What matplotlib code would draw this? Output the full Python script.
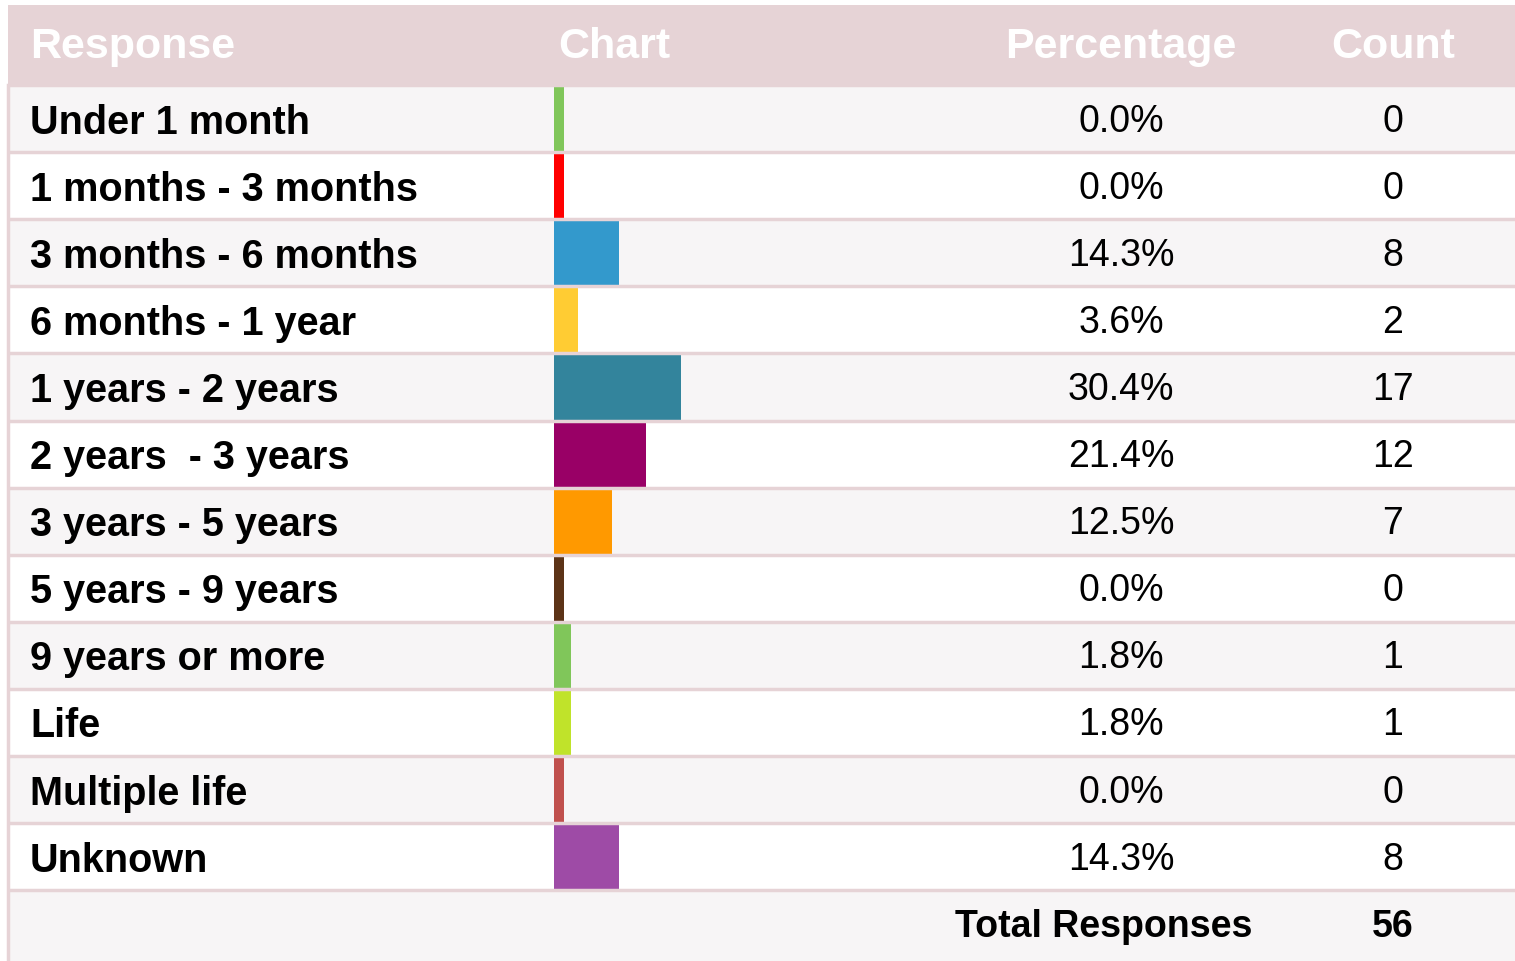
import matplotlib.pyplot as plt
from matplotlib.patches import Rectangle

plt.rcParams['font.family'] = ['Liberation Sans', 'DejaVu Sans']

responses = ['Under 1 month', '1 months - 3 months', '3 months - 6 months',
             '6 months - 1 year', '1 years - 2 years', '2 years  - 3 years',
             '3 years - 5 years', '5 years - 9 years', '9 years or more',
             'Life', 'Multiple life', 'Unknown']
percentages = [0.0, 0.0, 14.3, 3.6, 30.4, 21.4, 12.5, 0.0, 1.8, 1.8, 0.0, 14.3]
counts = [0, 0, 8, 2, 17, 12, 7, 0, 1, 1, 0, 8]
bar_colors = ['#80c65a', '#ff0000', '#3399cc', '#ffcc33', '#33849c', '#990066',
              '#ff9900', '#5c3317', '#80c65a', '#c0e32a', '#c0504d', '#9e4ba6']
total = 56

W, H = 1515, 962
fig = plt.figure(figsize=(W / 100, H / 100), dpi=100)
fig.set_facecolor('white')
ax = fig.add_axes([0, 0, 1, 1])
ax.set_xlim(0, W)
ax.set_ylim(H, 0)
ax.axis('off')

border = '#e6d3d6'
stripe = '#f7f5f6'
left, right = 8, W
top, head_h, row_h = 6, 80, 67.1

# header
ax.add_patch(Rectangle((left, top), right - left, head_h, color=border, lw=0))
hy = top + head_h / 2 + 1
hstyle = dict(color='white', fontsize=31, fontweight='bold', va='center')
ax.text(30, hy, 'Response', ha='left', **hstyle)
ax.text(558, hy, 'Chart', ha='left', **hstyle)
ax.text(1121, hy, 'Percentage', ha='center', **hstyle)
ax.text(1393, hy, 'Count', ha='center', **hstyle)

y0 = top + head_h
n = len(responses)
for i in range(n + 1):
    y = y0 + i * row_h
    h = row_h if i < n else H - y
    if i % 2 == 0:
        ax.add_patch(Rectangle((left, y), right - left, h, color=stripe, lw=0))

centers = [y0 + (i + 0.5) * row_h for i in range(n)]
bar_left = 554
widths = [10 + 3.85 * p for p in percentages]
ax.barh(centers, widths, left=bar_left, height=row_h - 2, color=bar_colors, lw=0)

for i in range(n + 1):
    y = y0 + i * row_h
    ax.plot([left, right], [y, y], color=border, lw=2.5, solid_capstyle='butt')
ax.plot([left, left], [y0, H], color=border, lw=2.5)

for i, yc in enumerate(centers):
    ax.text(30, yc + 3, responses[i], ha='left', va='center', fontsize=28.5, fontweight='bold')
    ax.text(1121, yc + 2, f'{percentages[i]:.1f}%', ha='center', va='center', fontsize=27)
    ax.text(1393, yc + 2, str(counts[i]), ha='center', va='center', fontsize=27)

ty = y0 + n * row_h + 36
ax.text(1252, ty, 'Total Responses', ha='right', va='center', fontsize=27, fontweight='bold')
ax.text(1393, ty, str(total), ha='center', va='center', fontsize=27, fontweight='bold')

fig.savefig('out.png', dpi=100, facecolor='white')
